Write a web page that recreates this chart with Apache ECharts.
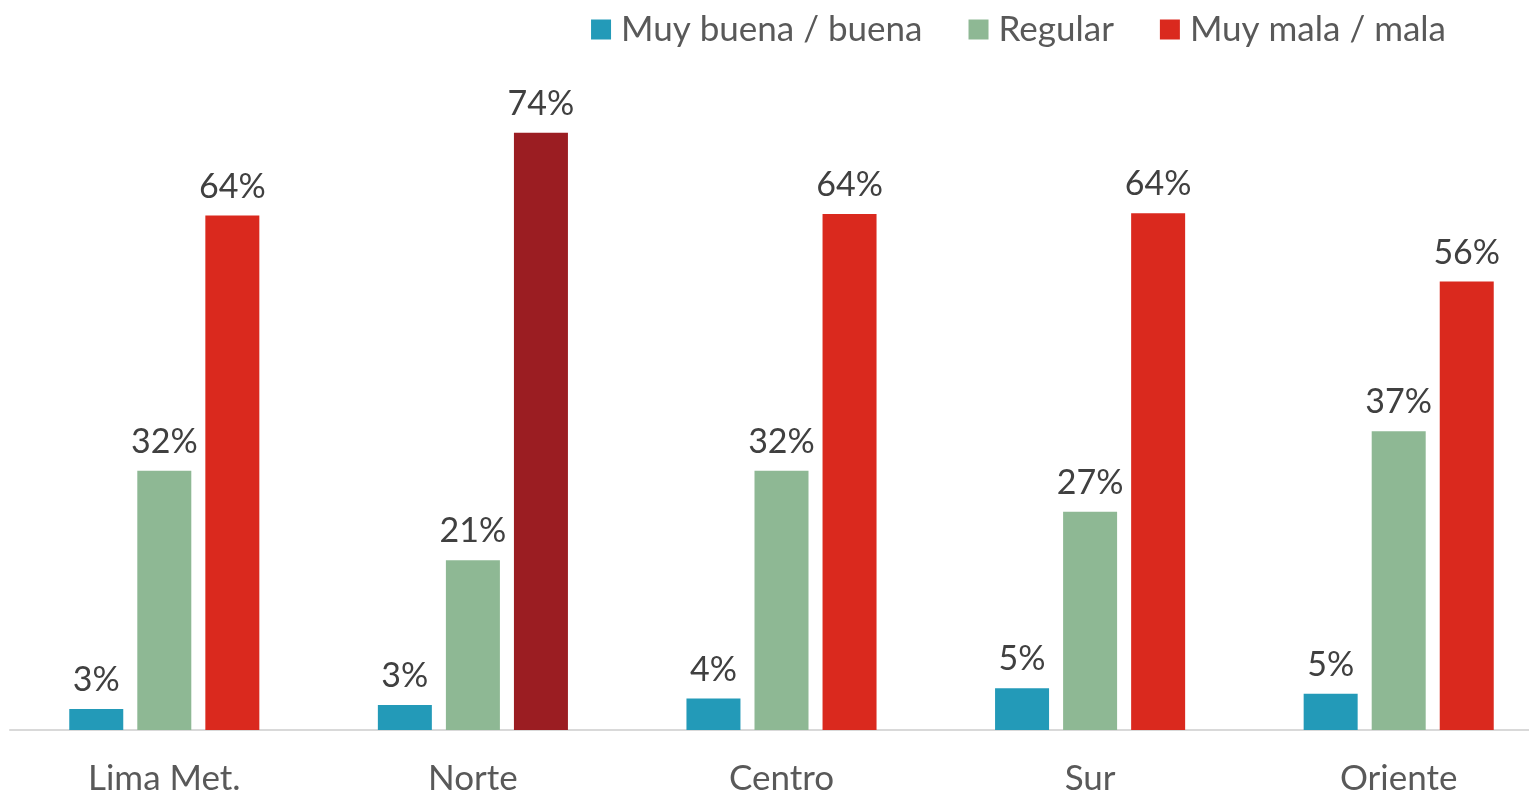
<!DOCTYPE html>
<html>
<head>
<meta charset="utf-8">
<script src="https://cdn.jsdelivr.net/npm/echarts@6/dist/echarts.min.js"></script>
<style>
  html, body { margin: 0; padding: 0; background: #fff; }
  #chart { width: 1529px; height: 792px; }
</style>
</head>
<body>
<div id="chart"></div>
<script>
const categories = ['Lima Met.', 'Norte', 'Centro', 'Sur', 'Oriente']
const seriesNames = ['Muy buena / buena', 'Regular', 'Muy mala / mala']
const buena = [2.6, 3.1, 3.9, 5.2, 4.5]
const regular = [32.2, 21.1, 32.2, 27.1, 37.1]
const mala = [63.9, 74.2, 64.1, 64.2, 55.7]
const labels = [
  ['3%', '3%', '4%', '5%', '5%'],
  ['32%', '21%', '32%', '27%', '37%'],
  ['64%', '74%', '64%', '64%', '56%'],
]
const colors = ['#239AB8', '#8EB894', '#DA291E']
const highlight = '#9B1D22'

const chart = echarts.init(document.getElementById('chart'))

function makeSeries(idx, values) {
  return {
    name: seriesNames[idx],
    type: 'bar',
    barWidth: 54,
    barGap: '26%',
    itemStyle: { color: colors[idx] },
    label: {
      show: true,
      position: 'top',
      distance: 12,
      color: '#404040',
      fontSize: 34,
      fontFamily: 'Lato',
      formatter: (p) => labels[idx][p.dataIndex],
    },
    data: values.map((v, i) => {
      // Norte resaltado en rojo oscuro
      if (idx === 2 && categories[i] === 'Norte') {
        return { value: v, itemStyle: { color: highlight } }
      }
      return v
    }),
  }
}

const options = {
  animation: false,
  backgroundColor: '#fff',
  textStyle: { fontFamily: 'Lato' },
  legend: {
    top: 7,
    right: 78,
    itemWidth: 20,
    itemHeight: 20,
    itemGap: 46,
    icon: 'rect',
    textStyle: { fontSize: 35, color: '#595959', fontFamily: 'Lato', padding: [0, 0, 0, 5] },
    data: seriesNames,
  },
  grid: {
    left: 10,
    top: 86,
    width: 1543,
    height: 644,
    outerBoundsMode: 'none',
  },
  xAxis: {
    type: 'category',
    data: categories,
    axisLine: { lineStyle: { color: '#D9D9D9', width: 2 } },
    axisTick: { show: false },
    axisLabel: {
      color: '#595959',
      fontSize: 35,
      margin: 31,
      fontFamily: 'Lato',
    },
  },
  yAxis: {
    type: 'value',
    min: 0,
    max: 80,
    show: false,
    splitLine: { show: false },
  },
  series: [makeSeries(0, buena), makeSeries(1, regular), makeSeries(2, mala)],
}

chart.setOption(options)
</script>
</body>
</html>
